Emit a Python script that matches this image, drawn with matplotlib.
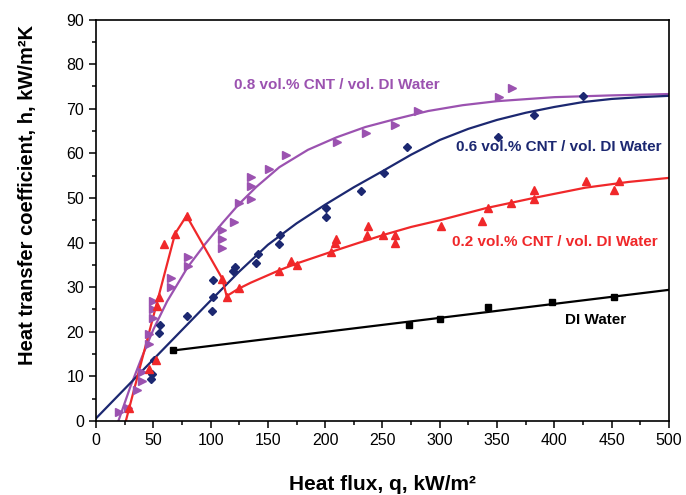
import matplotlib
matplotlib.use("Agg")
import matplotlib.pyplot as plt
from matplotlib.ticker import MultipleLocator

plt.rcParams['font.family'] = ['Liberation Sans', 'DejaVu Sans']

# 0.8 vol.% CNT (purple)
q08 = [20, 28, 36, 40, 40, 46, 46, 50, 50, 50, 65, 65, 80, 80, 110, 110, 110,
       120, 125, 135, 135, 135, 151, 166, 210, 236, 261, 281, 352, 363]
h08 = [2, 3, 7, 9, 11, 17.3, 19.5, 23, 25, 27, 30, 32, 34.7, 36.8, 38.8, 40.8, 42.8,
       44.7, 48.8, 49.8, 52.6, 54.6, 56.6, 59.6, 62.6, 64.6, 66.4, 69.6, 72.6, 74.6]
fit08_q = [19.5, 30, 40, 50, 62, 80, 95, 110, 125, 140, 160, 185, 210, 235, 260, 290,
           320, 350, 400, 450, 500]
fit08_h = [0, 7.7, 14.3, 20.5, 26.8, 34.5, 39.6, 44.3, 48.7, 52.5, 56.9, 60.8, 63.6,
           65.9, 67.6, 69.5, 70.8, 71.7, 72.6, 73.0, 73.3]

# 0.6 vol.% CNT (navy)
q06 = [48, 49, 50.3, 54.7, 55.6, 79.5, 101.5, 102, 102, 119.6, 121.4, 139.5, 141.8,
       159.4, 160.5, 201, 201, 231, 251, 271.6, 351, 382, 425]
h06 = [9.5, 10.6, 13.7, 19.7, 21.6, 23.6, 24.6, 27.7, 31.6, 33.6, 34.6, 35.5, 37.5,
       39.6, 41.6, 45.7, 47.7, 51.6, 55.5, 61.5, 63.7, 68.5, 72.9]
fit06_q = [0, 25, 50, 75, 100, 125, 150, 175, 200, 225, 250, 275, 300, 325, 350, 375,
           400, 425, 450, 475, 500]
fit06_h = [0.6, 7.2, 13.8, 20.4, 27, 33.5, 39.5, 44.3, 48.5, 52.4, 56, 59.7, 63, 65.5,
           67.5, 69.1, 70.4, 71.5, 72.2, 72.6, 72.9]

# 0.2 vol.% CNT (red)
q02 = [29, 46, 52.3, 53.2, 54.7, 59, 69, 79.5, 109.6, 114.6, 124.8, 160, 170.2, 175,
       205.3, 209, 209.6, 236.5, 237, 250.6, 261, 261, 301, 337, 342, 362, 382, 382,
       427.5, 452, 456.7]
h02 = [3, 11.7, 13.6, 25.8, 27.7, 39.7, 42, 46, 31.8, 27.7, 29.9, 33.7, 35.9, 35,
       37.9, 39.8, 40.8, 41.8, 43.8, 41.8, 41.8, 39.8, 43.8, 44.8, 47.7, 48.8, 49.7,
       51.8, 53.8, 51.8, 53.8]
fit02_q = [26, 69, 79, 110, 114, 124, 135, 160, 175, 205, 230, 252, 275, 300, 340,
           382, 427, 465, 500]
fit02_h = [0, 42, 46, 32, 28, 29.6, 31, 33.8, 35.3, 37.9, 40, 41.8, 43.5, 45, 47.7,
           50, 52.3, 53.6, 54.5]

# DI water (black)
qdi = [67, 273, 300, 342, 398, 452]
hdi = [16, 21.6, 22.9, 25.6, 26.7, 27.7]
fitdi_q = [67, 500]
fitdi_h = [15.8, 29.4]

c08 = '#9b52b0'
c06 = '#1c2871'
c02 = '#f0282a'
cdi = '#000000'

fig = plt.figure(figsize=(6.86, 4.95), dpi=100)
ax = fig.add_axes([0.140, 0.1495, 0.835, 0.811])

ax.plot(fit08_q, fit08_h, color=c08, lw=1.6)
ax.plot(fit06_q, fit06_h, color=c06, lw=1.6)
ax.plot(fit02_q, fit02_h, color=c02, lw=1.6)
ax.plot(fitdi_q, fitdi_h, color=cdi, lw=1.6)

ax.plot(q08, h08, ls='none', marker='>', ms=5.5, color=c08)
ax.plot(q06, h06, ls='none', marker='D', ms=4.5, color=c06)
ax.plot(q02, h02, ls='none', marker='^', ms=5.5, color=c02)
ax.plot(qdi, hdi, ls='none', marker='s', ms=3.8, color=cdi)

ax.text(120, 75.4, '0.8 vol.% CNT / vol. DI Water', color=c08, fontsize=11,
        fontweight='bold', va='center')
ax.text(314, 61.5, '0.6 vol.% CNT / vol. DI Water', color=c06, fontsize=11,
        fontweight='bold', va='center')
ax.text(311, 40.2, '0.2 vol.% CNT / vol. DI Water', color=c02, fontsize=11,
        fontweight='bold', va='center')
ax.text(409, 22.7, 'DI Water', color=cdi, fontsize=11, fontweight='bold', va='center')

ax.set_xlim(0, 500)
ax.set_ylim(0, 90)
ax.xaxis.set_major_locator(MultipleLocator(50))
ax.xaxis.set_minor_locator(MultipleLocator(25))
ax.yaxis.set_major_locator(MultipleLocator(10))
ax.yaxis.set_minor_locator(MultipleLocator(5))
ax.tick_params(which='both', direction='out', top=False, right=False, labelsize=11.5)
ax.tick_params(which='major', length=5, width=1.1)
ax.tick_params(which='minor', length=3, width=1.1)
for s in ax.spines.values():
    s.set_linewidth(1.2)

ax.set_xlabel('Heat flux, q, kW/m²', fontsize=15, fontweight='bold')
ax.set_ylabel('Heat transfer coefficient, h, kW/m²K', fontsize=14.5, fontweight='bold')
ax.xaxis.set_label_coords(0.5, -0.135)
ax.yaxis.set_label_coords(-0.103, 0.564)

fig.savefig('out.png', dpi=100)
